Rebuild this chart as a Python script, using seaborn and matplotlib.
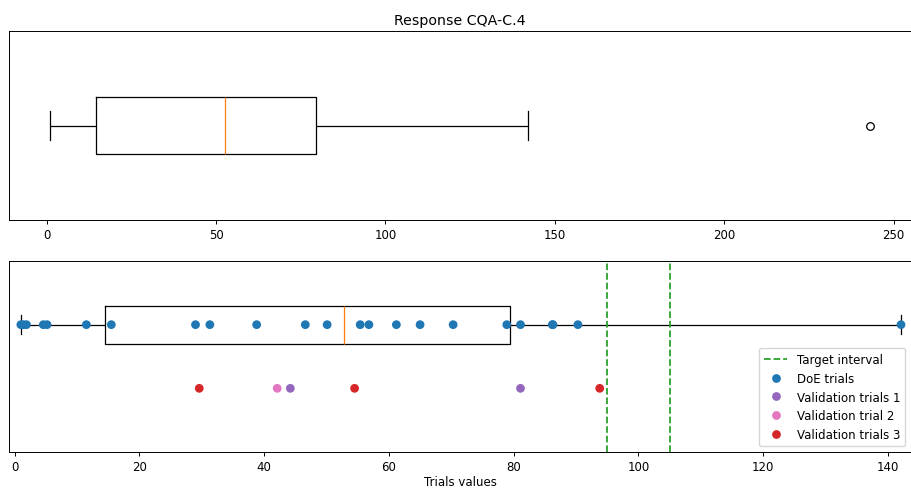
import matplotlib
matplotlib.use("Agg")
import matplotlib.pyplot as plt
from matplotlib.lines import Line2D
import pandas as pd
import seaborn as sns

# DoE trial responses
doe_values = [1.0, 1.4, 1.9, 4.6, 5.2, 11.5, 15.5, 29.0, 31.3, 38.8, 46.6, 50.1,
              55.4, 56.8, 61.2, 65.0, 70.3, 78.9, 81.1, 86.2, 86.3, 90.3, 142.1, 243.0]

# Validation runs
val1_values = [44.2, 81.1]
val2_values = [42.1]
val3_values = [29.6, 54.5, 93.8]

target_interval = [95, 105]

series_names = ["DoE trials", "Validation trials 1", "Validation trial 2", "Validation trials 3"]
series_colors = ["#1f77b4", "#9467bd", "#e377c2", "#d62728"]
row_names = ["DoE", "Validation"]

doe_df = pd.DataFrame({"value": doe_values, "row": row_names[0], "series": series_names[0]})
val_df = pd.concat([
    pd.DataFrame({"value": val1_values, "row": row_names[1], "series": series_names[1]}),
    pd.DataFrame({"value": val2_values, "row": row_names[1], "series": series_names[2]}),
    pd.DataFrame({"value": val3_values, "row": row_names[1], "series": series_names[3]}),
])
points_df = pd.concat([doe_df, val_df], ignore_index=True)

plt.rcParams["font.family"] = ["DejaVu Sans"]
plt.rcParams["font.size"] = 8.5

W, H = 912, 489
fig = plt.figure(figsize=(W / 100, H / 100), dpi=100)
ax_top = fig.add_axes([9 / W, (H - 221) / H, 902 / W, 189 / H])
ax_bot = fig.add_axes([9 / W, (H - 453) / H, 902 / W, 191 / H])

LW = 0.9
box_kw = dict(
    fill=False, color="black", linewidth=LW,
    medianprops=dict(color="#ff7f0e", linewidth=LW),
    whiskerprops=dict(color="black", linewidth=LW),
    capprops=dict(color="black", linewidth=LW),
    boxprops=dict(color="black", linewidth=LW),
)

# Top: overall response distribution
sns.boxplot(data=doe_df, x="value", y="row", ax=ax_top, width=0.3,
            flierprops=dict(marker="o", markersize=5.5, markerfacecolor="none",
                            markeredgecolor="black", markeredgewidth=LW),
            **box_kw)
ax_top.set_ylim(0.5, -0.5)
ax_top.set_xlim(-11.1, 255.1)
ax_top.set_xticks([0, 50, 100, 150, 200, 250])
ax_top.set_yticks([])
ax_top.set_xlabel("")
ax_top.set_ylabel("")
ax_top.set_title("Response CQA-C.4", fontsize=10.2, pad=5)

# Bottom: trials against the target interval
sns.boxplot(data=doe_df, x="value", y="row", ax=ax_bot, width=0.6,
            showfliers=False, order=row_names, **box_kw)
for xv in target_interval:
    ax_bot.axvline(xv, color="#2ca02c", linestyle="--", linewidth=1.3)
sns.stripplot(data=points_df, x="value", y="row", hue="series", order=row_names,
              hue_order=series_names, palette=series_colors, jitter=False,
              size=6.3, linewidth=0, ax=ax_bot, zorder=4)

old = ax_bot.get_legend()
handles = list(old.legend_handles)
labels = [t.get_text() for t in old.get_texts()]
old.remove()
target_handle = Line2D([], [], color="#2ca02c", linestyle="--", linewidth=1.3)
ax_bot.legend([target_handle] + handles, ["Target interval"] + labels,
              loc="lower right", fontsize=8.5)

ax_bot.set_ylim(2, -1)
ax_bot.set_xlim(-0.9, 143.7)
ax_bot.set_xticks([0, 20, 40, 60, 80, 100, 120, 140])
ax_bot.set_yticks([])
ax_bot.set_ylabel("")
ax_bot.set_xlabel("Trials values", fontsize=8.5, labelpad=1.5)

for ax in (ax_top, ax_bot):
    for s in ax.spines.values():
        s.set_visible(True)
        s.set_color("black")
        s.set_linewidth(0.7)
    ax.tick_params(axis="x", labelsize=8.5, direction="out", length=3, width=0.7, pad=3)

fig.savefig("out.png", dpi=100)
